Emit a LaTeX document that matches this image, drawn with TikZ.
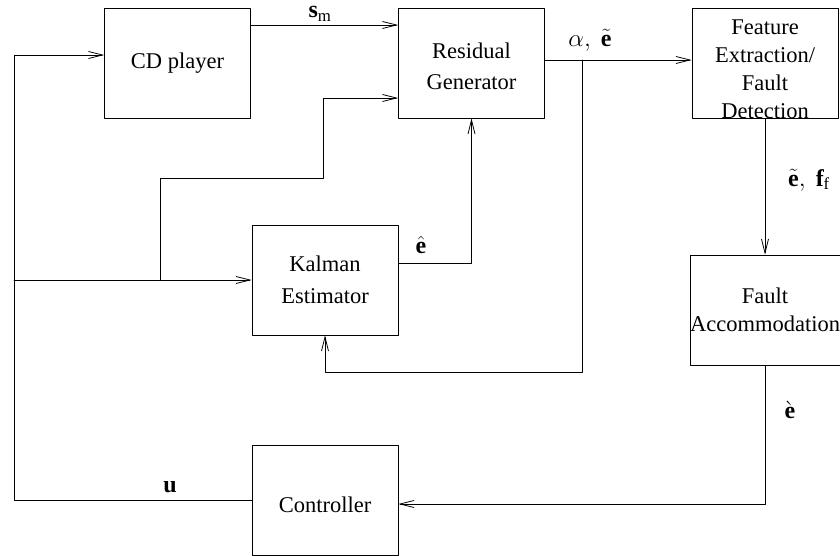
\documentclass[tikz,border=0pt]{standalone}
\usepackage{fontspec}
\setmainfont{Liberation Serif}
\usetikzlibrary{arrows.meta}

\tikzset{
  bloc/.style={draw, minimum width=146pt, minimum height=110pt, align=center, inner sep=0pt},
  sig/.style={line width=0.8pt},
  lab/.style={inner sep=1pt, font=\fontsize{24}{28}\selectfont}
}

\begin{document}
\begin{tikzpicture}[line cap=round,line join=round,>={Straight Barb[length=14pt,width=7pt]},x=1pt,y=-1pt,
  font=\fontsize{22.5}{28}\selectfont]
		\useasboundingbox (0,0) rectangle (840,555);
		%blocs
		\node[bloc, sig] (cd) at (177.5,63) {CD player};
		\node[bloc, sig] (res) at (471.5,63) {};
		\node[align=center] (rest) at (471.5,66) {Residual\\[3pt]Generator};
		\node[bloc, sig] (fe) at (765,63) {};
		\node[align=center] (fet) at (765,69) {Feature\\Extraction/\\Fault\\Detection};
		\node[bloc, sig] (kal) at (325,280) {Kalman\\[4pt]Estimator};
		\node[bloc, sig] (fa) at (765,310) {Fault\\Accommodation};
		\node[bloc, sig] (ctrl) at (325,500) {\\[-2pt]Controller};
		%signaux
		\draw[sig,->] (cd.east |- 0,25) -- (res.west |- 0,25);
		\node[lab] (sm) at (320,14) {$\mathbf{s}_\mathrm{m}$};
		\draw[sig,->] (ctrl.west) -- (14,500) |- (cd.west |- 0,55);
		\node[lab] (u) at (170,487) {$\mathbf{u}$};
		\draw[sig,->] (14,280) -- (kal.west);
		\draw[sig,->] (160,280) |- (323,178) |- (res.west |- 0,98);
		\draw[sig,->] (res.east |- 0,60) -- (fe.west |- 0,60);
		\node[lab] (ae) at (590,40) {$\alpha,\ \tilde{\mathbf{e}}$};
		\draw[sig,->] (582,60) |- (kal.south |- 0,372) -- (kal.south);
		\draw[sig,->] (kal.east |- 0,263) -| (res.south);
		\node[lab] (eh) at (421,245) {$\hat{\mathbf{e}}$};
		\draw[sig,->] (fe.south) -- (fa.north);
		\node[lab] (ef) at (809,180) {$\tilde{\mathbf{e}},\ \mathbf{f}_\mathrm{f}$};
		\draw[sig,->] (fa.south) |- (ctrl.east |- 0,504);
		\node[lab] (eg) at (790,410) {$\grave{\mathbf{e}}$};
\end{tikzpicture}
\end{document}
